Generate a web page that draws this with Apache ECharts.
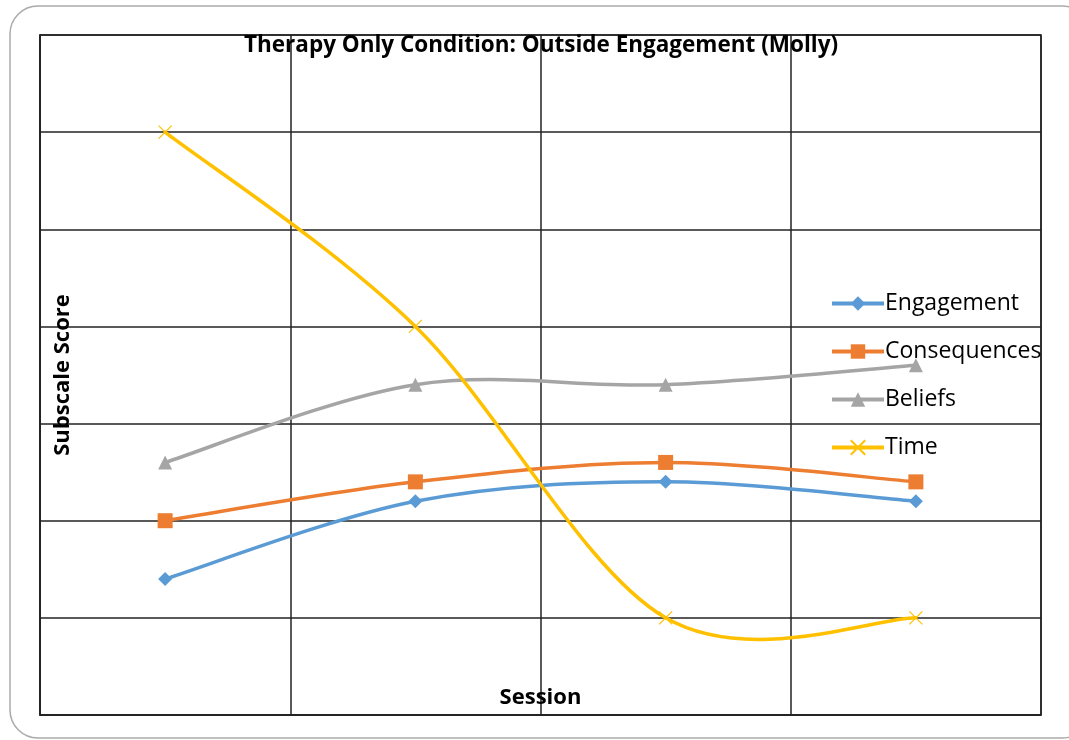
<!DOCTYPE html>
<html>
<head>
<meta charset="utf-8">
<script src="https://cdn.jsdelivr.net/npm/echarts@6/dist/echarts.min.js"></script>
<style>
html,body{margin:0;padding:0;background:#fff;}
#main{width:1069px;height:740px;}
</style>
</head>
<body>
<div id="main"></div>
<script>
var sessions = ['1', '2', '3', '4'];
var engagement = [1.4, 2.2, 2.4, 2.2];
var consequences = [2.0, 2.4, 2.6, 2.4];
var beliefs = [2.6, 3.4, 3.4, 3.6];
var time = [6.0, 4.0, 1.0, 1.0];

var font = 'Open Sans';
var LW = 3.5;

// marker series, its own line hidden (the curve is drawn by curve())
function marks(name, data, color, symbol, size) {
	return {
		name: name,
		type: 'line',
		data: data,
		symbol: symbol,
		symbolSize: size,
		lineStyle: { color: color, width: 0, opacity: 0 },
		itemStyle: { color: color },
		z: 4,
		emphasis: { disabled: true }
	};
}

// excel-like smoothed curve, catmull-rom through the axis coords
function curve(name, values, color) {
	var d = [];
	for (var i = 0; i < values.length; i++) d.push([i, values[i]]);
	return {
		name: name,
		type: 'custom',
		data: d,
		z: 3,
		renderItem: function (params, api) {
			var i = params.dataIndex;
			if (i >= values.length - 1) return null;
			var p = function (k) {
				k = Math.max(0, Math.min(values.length - 1, k));
				return api.coord([k, values[k]]);
			};
			var p0 = p(i - 1), p1 = p(i), p2 = p(i + 1), p3 = p(i + 2);
			return {
				type: 'bezierCurve',
				shape: {
					x1: p1[0], y1: p1[1],
					cpx1: p1[0] + (p2[0] - p0[0]) / 6, cpy1: p1[1] + (p2[1] - p0[1]) / 6,
					cpx2: p2[0] - (p3[0] - p1[0]) / 6, cpy2: p2[1] - (p3[1] - p1[1]) / 6,
					x2: p2[0], y2: p2[1]
				},
				style: { fill: 'none', stroke: color, lineWidth: LW, lineCap: 'round' }
			};
		}
	};
}

function legendItem(name, color) {
	return { name: name, lineStyle: { color: color, width: 4, opacity: 1 } };
}

var myChart = echarts.init(document.getElementById('main'));
var cross = marks('Time', time, '#FFC000', 'path://M0,0L10,10M10,0L0,10', 13);
cross.itemStyle = { color: 'none', borderColor: '#FFC000', borderWidth: 1.2 };

var option = {
	animation: false,
	title: {
		text: 'Therapy Only Condition: Outside Engagement (Molly)',
		left: 244,
		top: 34,
		padding: 0,
		textStyle: { fontFamily: font, fontSize: 22.5, fontWeight: 'bold', color: '#000' }
	},
	graphic: [{
		type: 'rect',
		shape: { x: 10, y: 6, width: 1080, height: 732, r: 28 },
		style: { fill: 'none', stroke: '#aaaaaa', lineWidth: 1.5 },
		z: -1
	}],
	legend: {
		orient: 'vertical',
		left: 830,
		top: 292,
		padding: 0,
		itemWidth: 52,
		itemHeight: 18,
		itemGap: 25,
		textStyle: { fontFamily: font, fontSize: 23, color: '#000', padding: [0, 0, 0, -4] },
		data: [
			legendItem('Engagement', '#5B9BD5'),
			legendItem('Consequences', '#ED7D31'),
			legendItem('Beliefs', '#A5A5A5'),
			legendItem('Time', '#FFC000')
		]
	},
	grid: { left: 40, right: 28, top: 35, bottom: 25, show: true, borderColor: '#222', borderWidth: 1.5 },
	xAxis: {
		type: 'category',
		data: sessions,
		boundaryGap: true,
		name: 'Session',
		nameLocation: 'middle',
		nameGap: -28,
		nameTextStyle: { fontFamily: font, fontSize: 22, fontWeight: 'bold', color: '#000' },
		axisLine: { lineStyle: { color: '#222', width: 1.5 } },
		axisTick: { show: false },
		axisLabel: { show: false },
		splitLine: { show: true, lineStyle: { color: '#222', width: 1.5 } }
	},
	yAxis: {
		type: 'value',
		min: 0,
		max: 7,
		interval: 1,
		name: 'Subscale Score',
		nameLocation: 'middle',
		nameGap: -34,
		nameTextStyle: { fontFamily: font, fontSize: 22, fontWeight: 'bold', color: '#000' },
		axisLine: { show: true, lineStyle: { color: '#222', width: 1.5 } },
		axisTick: { show: false },
		axisLabel: { show: false },
		splitLine: { show: true, lineStyle: { color: '#222', width: 1.5 } }
	},
	series: [
		marks('Engagement', engagement, '#5B9BD5', 'diamond', 14),
		marks('Consequences', consequences, '#ED7D31', 'rect', 15),
		marks('Beliefs', beliefs, '#A5A5A5', 'triangle', 14),
		cross,
		curve('Engagement', engagement, '#5B9BD5'),
		curve('Consequences', consequences, '#ED7D31'),
		curve('Beliefs', beliefs, '#A5A5A5'),
		curve('Time', time, '#FFC000')
	]
};
myChart.setOption(option);
</script>
</body>
</html>
